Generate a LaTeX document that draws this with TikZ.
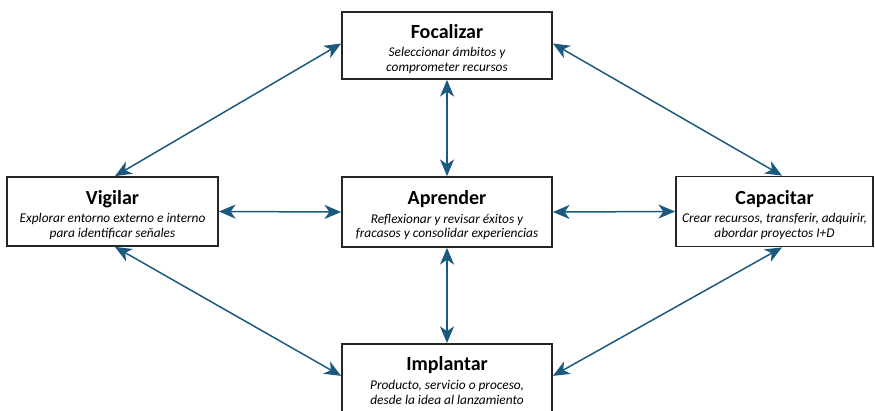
\documentclass[tikz,border=0pt]{standalone}
\usepackage{fontspec}
\setmainfont{Carlito}
\usetikzlibrary{arrows.meta,calc}
\definecolor{arrowblue}{HTML}{1B5A7E}
\newcommand{\titlefont}{\fontsize{11.4}{12}\selectfont\upshape\bfseries}
\newcommand{\descfont}{\fontsize{7.6}{8.1}\selectfont\itshape}
% title line with a little headroom above it
\newcommand{\stagetitle}[1]{{\titlefont\rule{0pt}{11.5pt}#1}\\[2.6pt]}
\tikzset{
  stagebox/.style={draw=black!85, line width=1pt, fill=white, inner sep=0pt,
    align=center, font=\descfont},
  link/.style={arrowblue, line width=0.85pt,
    {Stealth[length=9.5pt,width=8pt,inset=2.8pt]}-{Stealth[length=9.5pt,width=8pt,inset=2.8pt]}},
}
\begin{document}
\begin{tikzpicture}[x=0.02cm,y=-0.02cm]
  \useasboundingbox (0,0) rectangle (875,410);
  % stage boxes
  \node[stagebox, minimum width=210*0.02cm, minimum height=67*0.02cm] (foc) at (447,45.5)
    {\stagetitle{Focalizar} Seleccionar ámbitos y\\ comprometer recursos};
  \node[stagebox, minimum width=211*0.02cm, minimum height=69*0.02cm] (vig) at (112.5,211.5)
    {\stagetitle{Vigilar} Explorar entorno externo e interno\\ para identificar señales};
  \node[stagebox, minimum width=210*0.02cm, minimum height=70*0.02cm] (apr) at (447,212)
    {\stagetitle{Aprender} Reflexionar y revisar éxitos y\\ fracasos y consolidar experiencias};
  \node[stagebox, minimum width=197*0.02cm, minimum height=70*0.02cm] (cap) at (774.5,211.5)
    {\stagetitle{Capacitar} Crear recursos, transferir, adquirir,\\ abordar proyectos I+D};
  % this box runs past the lower page edge; extra depth keeps its text high
  \node[stagebox, minimum width=210*0.02cm, minimum height=73*0.02cm, anchor=north] (imp) at (447,343)
    {\stagetitle{Implantar} Producto, servicio o proceso,\\ desde la idea al lanzamiento\rule[-3.4pt]{0pt}{0pt}};
  % connectors
  \draw[link] ($(vig.north)+(2.5,0)$) -- ($(foc.west)+(0,-2)$);
  \draw[link] ($(foc.east)+(0,-2)$) -- ($(cap.north)+(7.5,0)$);
  \draw[link] ($(vig.south)+(2.5,0)$) -- ($(imp.west)+(0,-4.5)$);
  \draw[link] ($(imp.east)+(0,-4.5)$) -- ($(cap.south)+(7.5,0)$);
  \draw[link] (foc.south) -- (apr.north);
  \draw[link] (apr.south) -- (imp.north);
  \draw[link] (vig.east) -- (apr.west);
  \draw[link] (apr.east) -- (cap.west);
\end{tikzpicture}
\end{document}
